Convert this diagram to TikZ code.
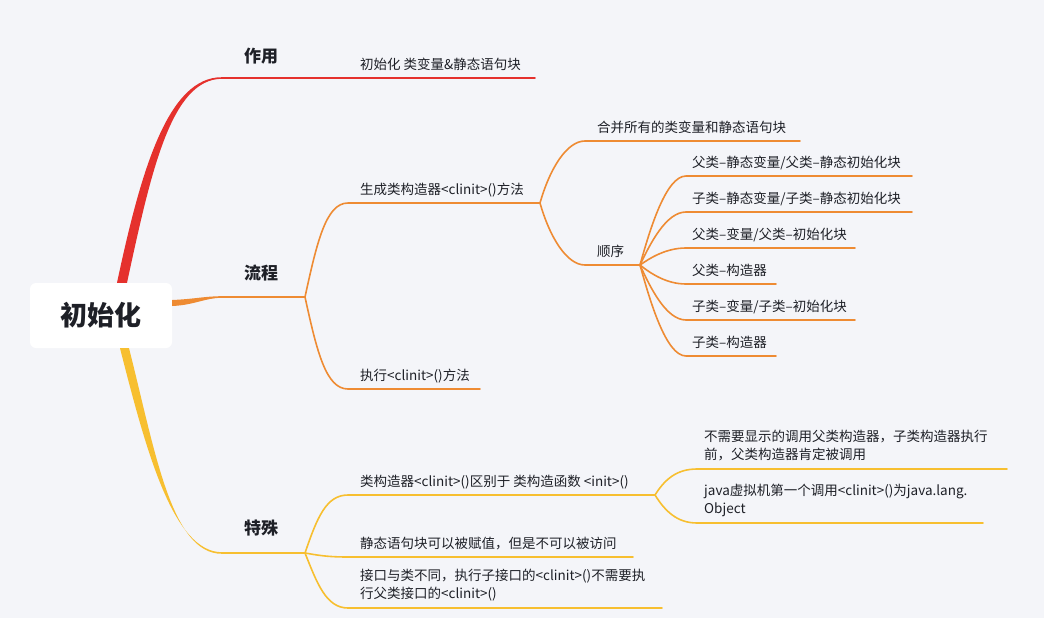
\documentclass[tikz,border=0pt]{standalone}
\usepackage{fontspec}
\setmainfont{Noto Sans CJK SC}
\usepackage{tikz}
\usetikzlibrary{positioning}
\definecolor{bgc}{HTML}{F4F5F9}
\definecolor{zred}{HTML}{E5312D}
\definecolor{lorange}{HTML}{EE8B33}
\definecolor{tyellow}{HTML}{F7BF30}
\definecolor{ink}{HTML}{1E2027}
\tikzset{
  leaf/.style={inner sep=0pt, anchor=base west, text=ink, font=\fontsize{13.5}{18}\selectfont},
  twoline/.style={leaf, anchor=north west, align=left},
  topic/.style={inner sep=0pt, text=ink, font=\fontsize{17}{20}\selectfont\bfseries},
  wire/.style={line width=1.6pt, line cap=round},
}

\begin{document}
\begin{tikzpicture}[x=1pt,y=-1pt]
    \fill[bgc] (0,0) rectangle (1044,618);
    \useasboundingbox (0,0) rectangle (1044,618);
    \node[fill=white, rounded corners=6pt, minimum width=142pt, minimum height=65pt, text=ink, font=\fontsize{27}{30}\selectfont\bfseries] (root) at (101,315.5) {初始化};

    % 作用
    \coordinate (zyS) at (222,78);
    \coordinate (zyE) at (305,78);
    \node[topic] (zy) at (261,56) {作用};
    \fill[zred] ([xshift=16pt]root.north) .. controls (141,170) and (168,77) .. ([yshift=0.8pt]zyS) -- ([yshift=-0.8pt]zyS) .. controls (171,79) and (151,172) .. ([xshift=26pt]root.north) -- cycle;
    \coordinate (hbS) at (340,78);
    \coordinate (hbE) at (535,78);
    \node[leaf] (hb) at (360,70) {初始化 类变量\&静态语句块};
    \draw[wire,zred] (zyS) -- (zyE) -- (hbS) -- (hbE);

    % 流程
    \coordinate (lcS) at (222,297);
    \coordinate (lcE) at (305,297);
    \node[topic] (lc) at (261,273) {流程};
    \fill[lorange] ([yshift=15.5pt]root.east) .. controls (195,299) and (205,296.2) .. ([yshift=0.8pt]lcS) -- ([yshift=-0.8pt]lcS) .. controls (205,297.8) and (195,305) .. ([yshift=9.5pt]root.east) -- cycle;
    \draw[wire,lorange] (lcS) -- (lcE);
    \coordinate (scS) at (348,203);
    \coordinate (scE) at (540,203);
    \node[leaf] (sc) at (360,194) {生成类构造器<clinit>()方法};
    \draw[wire,lorange] (lcE) .. controls +(12,-55) and +(-22,0) .. (scS) -- (scE);
    \coordinate (zxS) at (348,389);
    \coordinate (zxE) at (480,389);
    \node[leaf] (zx) at (360,380) {执行<clinit>()方法};
    \draw[wire,lorange] (lcE) .. controls +(12,55) and +(-22,0) .. (zxS) -- (zxE);

    \coordinate (hbjS) at (585,141);
    \coordinate (hbjE) at (800,141);
    \node[leaf] (hbj) at (597,132) {合并所有的类变量和静态语句块};
    \draw[wire,lorange] (scE) .. controls +(10,-35) and +(-18,0) .. (hbjS) -- (hbjE);
    \coordinate (sxS) at (585,265);
    \coordinate (sxE) at (640,265);
    \node[leaf] (sx) at (597,256) {顺序};
    \draw[wire,lorange] (scE) .. controls +(10,35) and +(-18,0) .. (sxS) -- (sxE);

    % 顺序
    \coordinate (sx1S) at (686,176);
    \coordinate (sx1E) at (912,176);
    \node[leaf] (sx1) at (692,167) {父类–静态变量/父类–静态初始化块};
    \draw[wire,lorange] (sxE) .. controls +(10,-36) and +(-20,0) .. (sx1S) -- (sx1E);
    \coordinate (sx2S) at (686,212);
    \coordinate (sx2E) at (912,212);
    \node[leaf] (sx2) at (692,203) {子类–静态变量/子类–静态初始化块};
    \draw[wire,lorange] (sxE) .. controls +(10,-21) and +(-20,0) .. (sx2S) -- (sx2E);
    \coordinate (sx3S) at (686,248);
    \coordinate (sx3E) at (855,248);
    \node[leaf] (sx3) at (692,239) {父类–变量/父类–初始化块};
    \draw[wire,lorange] (sxE) .. controls +(10,-7) and +(-20,0) .. (sx3S) -- (sx3E);
    \coordinate (sx4S) at (686,284);
    \coordinate (sx4E) at (776,284);
    \node[leaf] (sx4) at (692,275) {父类–构造器};
    \draw[wire,lorange] (sxE) .. controls +(10,8) and +(-20,0) .. (sx4S) -- (sx4E);
    \coordinate (sx5S) at (686,320);
    \coordinate (sx5E) at (855,320);
    \node[leaf] (sx5) at (692,311) {子类–变量/子类–初始化块};
    \draw[wire,lorange] (sxE) .. controls +(10,22) and +(-20,0) .. (sx5S) -- (sx5E);
    \coordinate (sx6S) at (686,356);
    \coordinate (sx6E) at (776,356);
    \node[leaf] (sx6) at (692,347) {子类–构造器};
    \draw[wire,lorange] (sxE) .. controls +(10,36) and +(-20,0) .. (sx6S) -- (sx6E);

    % 特殊
    \coordinate (tsS) at (222,553);
    \coordinate (tsE) at (305,553);
    \node[topic] (ts) at (261,528) {特殊};
    \fill[tyellow] ([xshift=19pt]root.south) .. controls (146,450) and (173,552.2) .. ([yshift=0.8pt]tsS) -- ([yshift=-0.8pt]tsS) .. controls (171,554) and (155,450) .. ([xshift=28pt]root.south) -- cycle;
    \draw[wire,tyellow] (tsS) -- (tsE);
    \coordinate (qbS) at (348,495);
    \coordinate (qbE) at (655,495);
    \node[leaf] (qb) at (360,486) {类构造器<clinit>()区别于 类构造函数 <init>()};
    \draw[wire,tyellow] (tsE) .. controls +(12,-35) and +(-22,0) .. (qbS) -- (qbE);
    \coordinate (fzS) at (348,557);
    \coordinate (fzE) at (633,557);
    \node[leaf] (fz) at (360,548) {静态语句块可以被赋值，但是不可以被访问};
    \draw[wire,tyellow] (tsE) .. controls +(12,2) and +(-22,0) .. (fzS) -- (fzE);
    \coordinate (jkS) at (348,608);
    \coordinate (jkE) at (662,608);
    \node[twoline] (jk) at (360,569) {接口与类不同，执行子接口的<clinit>()不需要执\\行父类接口的<clinit>()};
    \draw[wire,tyellow] (tsE) .. controls +(12,30) and +(-22,0) .. (jkS) -- (jkE);

    \coordinate (bxS) at (697,469);
    \coordinate (bxE) at (1007,469);
    \node[twoline] (bx) at (704,430) {不需要显示的调用父类构造器，子类构造器执行\\前，父类构造器肯定被调用};
    \draw[wire,tyellow] (qbE) .. controls +(10,-16) and +(-20,0) .. (bxS) -- (bxE);
    \coordinate (jvS) at (697,523);
    \coordinate (jvE) at (983,523);
    \node[twoline] (jv) at (704,484) {java虚拟机第一个调用<clinit>()为java.lang.\\Object};
    \draw[wire,tyellow] (qbE) .. controls +(10,16) and +(-20,0) .. (jvS) -- (jvE);
\end{tikzpicture}
\end{document}
